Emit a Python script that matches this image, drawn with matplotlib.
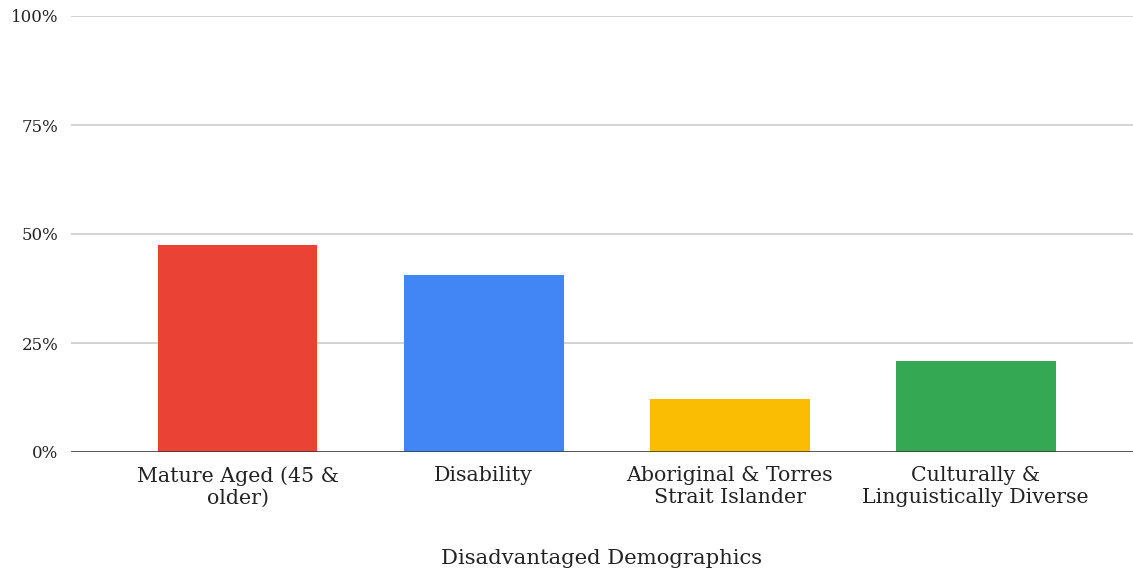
import matplotlib
matplotlib.use("Agg")
import matplotlib.pyplot as plt
from matplotlib.ticker import FuncFormatter

categories = ["Mature Aged (45 &\nolder)", "Disability",
              "Aboriginal & Torres\nStrait Islander",
              "Culturally &\nLinguistically Diverse"]
values = [47.5, 40.7, 12.2, 20.9]
colors = ["#ea4335", "#4285f4", "#fbbc04", "#34a853"]
yticks = [0, 25, 50, 75, 100]

plt.rcParams['font.family'] = ['DejaVu Serif']

fig = plt.figure(figsize=(11.33, 5.76), dpi=100)
ax = fig.add_axes([71/1133, 124/576, 1 - 71/1133, 436/576])

x = list(range(len(categories)))
ax.bar(x, values, width=0.65, color=colors, zorder=3)

ax.set_xlim(-0.677, 3.64)
ax.set_ylim(0, 100)
ax.set_yticks(yticks)
ax.yaxis.set_major_formatter(FuncFormatter(lambda v, p: f"{int(v)}%"))
ax.grid(axis='y', color='#cccccc', linewidth=1.2, zorder=0)
ax.axhline(0, color='#333333', linewidth=1.8, zorder=4)
for s in ax.spines.values():
    s.set_visible(False)
ax.tick_params(axis='both', length=0)
ax.tick_params(axis='y', labelsize=12, pad=9, labelcolor='#222222')
ax.set_xticks(x)
ax.set_xticklabels(categories, fontsize=14.8, color='#222222', linespacing=1.2)
ax.tick_params(axis='x', pad=10)
ax.set_xlabel("Disadvantaged Demographics", fontsize=15.2, color='#222222', labelpad=30)

fig.savefig("out.png", dpi=100, facecolor='white')
